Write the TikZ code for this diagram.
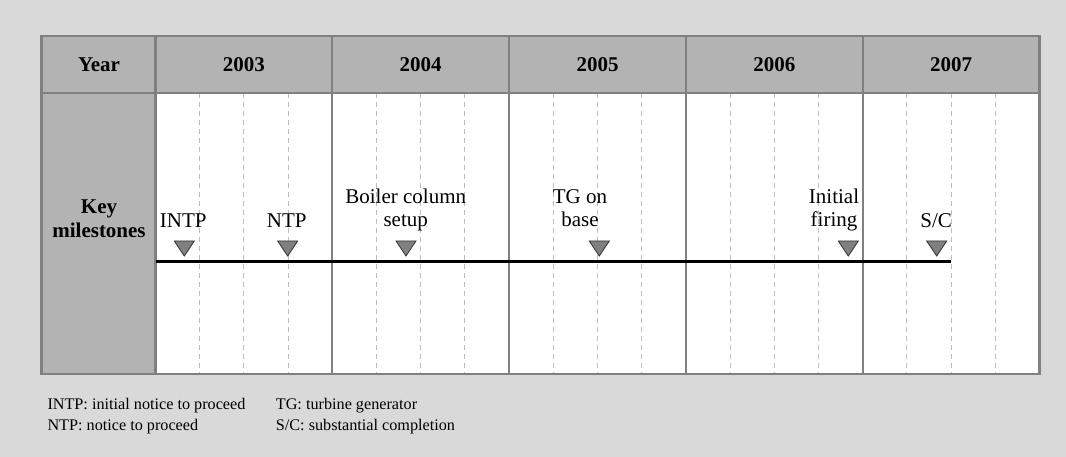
\documentclass[tikz,border=0pt]{standalone}
\usepackage{fontspec}
\setmainfont{Liberation Serif}
\definecolor{bgc}{HTML}{D9D9D9}
\definecolor{hdrc}{HTML}{B3B3B3}
\definecolor{gridc}{HTML}{808080}
\definecolor{dashc}{HTML}{BDBDBD}
\definecolor{tric}{HTML}{808080}
\begin{document}
\begin{tikzpicture}[x=1pt,y=-1pt,
  hdr/.style={font=\fontsize{21}{24}\selectfont\bfseries, anchor=base, inner sep=0pt, align=center},
  lbl/.style={font=\fontsize{21}{23.5}\selectfont, align=center, anchor=base, inner sep=0pt},
  legend/.style={font=\fontsize{16.2}{21}\selectfont, anchor=base west, inner sep=0pt},
  gridline/.style={draw=gridc, line width=2.2pt},
  quarter/.style={draw=dashc, line width=1pt, dash pattern=on 5pt off 4pt},
  tri/.style={fill=tric, draw=black!80, line width=0.8pt, line join=miter},
  timeline/.style={draw=black, line width=3pt}
]
\useasboundingbox (0,0) rectangle (1066,457);
\fill[bgc] (0,0) rectangle (1066,457);
% fills
\fill[hdrc] (41.5,36) rectangle (1039.5,93);
\fill[hdrc] (41.5,93) rectangle (155.5,374);
\fill[white] (155.5,93) rectangle (1039.5,374);
% quarter lines
\foreach \i in {0,...,4}{
  \foreach \j in {1,2,3}{
    \draw[quarter] ({155.5+176.8*\i+44.2*\j},93) -- ({155.5+176.8*\i+44.2*\j},374);
  }
}
% grid
\foreach \i in {0,...,5}{
  \draw[gridline] ({155.5+176.8*\i},36) -- ({155.5+176.8*\i},374);
}
\draw[gridline] (41.5,93) -- (1039.5,93);
\draw[gridline] (41.5,36) rectangle (1039.5,374);
% header texts
\node[hdr] (year) at (99,72) {Year};
\node[hdr] (y2003) at (243.9,72) {2003};
\node[hdr] (y2004) at (420.7,72) {2004};
\node[hdr] (y2005) at (597.5,72) {2005};
\node[hdr] (y2006) at (774.3,72) {2006};
\node[hdr] (y2007) at (951.1,72) {2007};
\node[hdr] (keym) at (99,238) {Key\\milestones};
% timeline
\coordinate (tls) at (155.5,262);
\coordinate (tle) at (951,262);
\draw[timeline] (tls) -- (tle);
% milestone markers
\foreach \x in {184.3,287.7,406,599.3,848.3,936.7}{
  \filldraw[tri] (\x-10,241) -- (\x+10,241) -- (\x,256) -- cycle;
}
% milestone labels
\node[lbl] (intp) at (183.3,227.5) {INTP};
\node[lbl] (ntp) at (286.7,227.5) {NTP};
\node[lbl] (boiler) at (405.7,227) {Boiler column\\setup};
\node[lbl] (tg) at (580,227) {TG on\\base};
\node[lbl] (firing) at (834,227) {Initial\\firing};
\node[lbl] (sc) at (936.2,227.5) {S/C};
% legend
\node[legend] (lg1) at (47.3,409) {INTP: initial notice to proceed};
\node[legend] (lg2) at (47.3,430) {NTP: notice to proceed};
\node[legend] (lg3) at (275.7,409) {TG: turbine generator};
\node[legend] (lg4) at (275.7,430) {S/C: substantial completion};
\end{tikzpicture}
\end{document}
